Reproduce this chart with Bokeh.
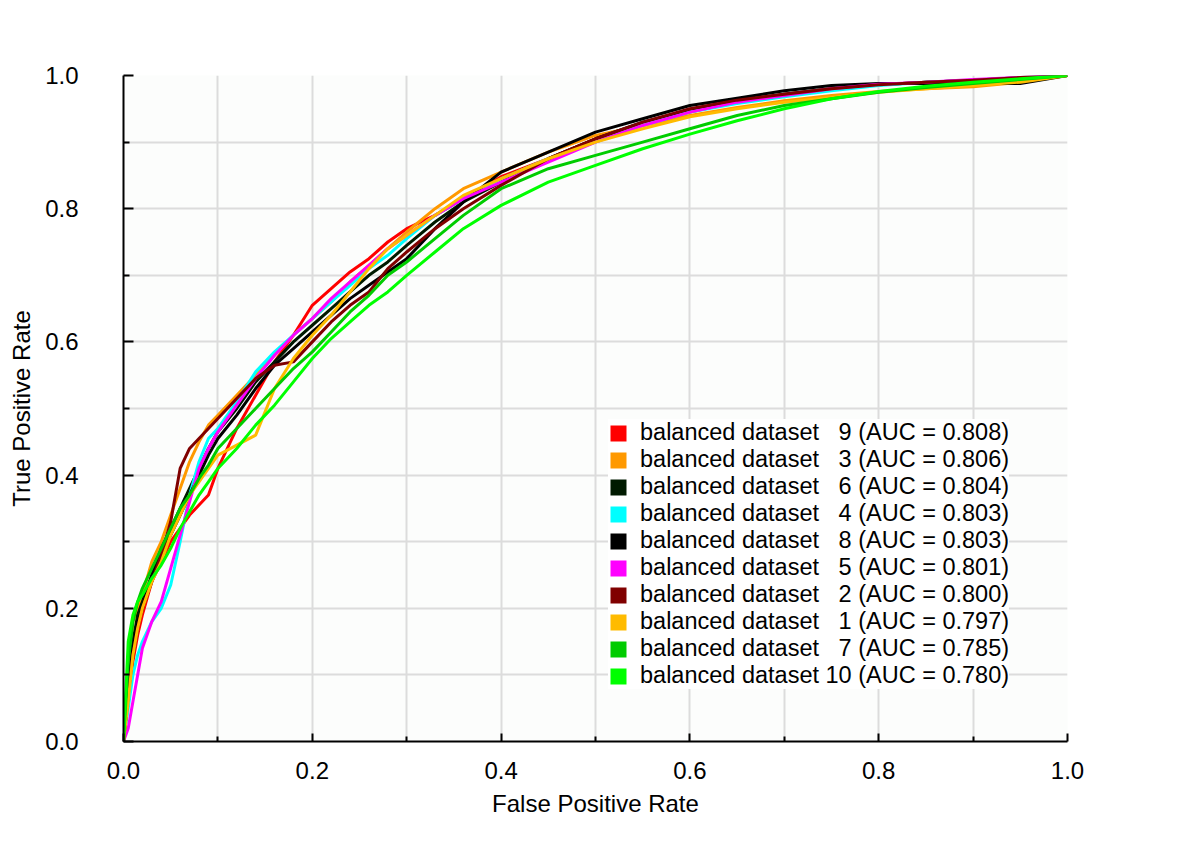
from bokeh.plotting import figure
from bokeh.models import (Range1d, FixedTicker, PrintfTickFormatter, Legend, LegendItem)
from bokeh.embed import file_html
from bokeh.resources import INLINE

# ---------------- data ----------------
fpr = [0, 0.005, 0.01, 0.015, 0.02, 0.03, 0.04, 0.05, 0.06, 0.07, 0.08, 0.09, 0.1,
       0.12, 0.14, 0.16, 0.18, 0.2, 0.22, 0.24, 0.26, 0.28, 0.3, 0.33, 0.36, 0.4,
       0.45, 0.5, 0.55, 0.6, 0.65, 0.7, 0.75, 0.8, 0.85, 0.9, 0.95, 1.0]

tpr_ds9 = [0, 0.06, 0.12, 0.16, 0.19, 0.24, 0.27, 0.30, 0.32, 0.34, 0.355, 0.37, 0.41,
           0.47, 0.52, 0.57, 0.61, 0.655, 0.68, 0.705, 0.725, 0.75, 0.77, 0.79, 0.815, 0.848,
           0.875, 0.905, 0.925, 0.945, 0.96, 0.972, 0.98, 0.986, 0.99, 0.993, 0.997, 1.0]
tpr_ds3 = [0, 0.10, 0.18, 0.20, 0.22, 0.27, 0.30, 0.34, 0.38, 0.42, 0.45, 0.475, 0.49,
           0.52, 0.55, 0.58, 0.61, 0.635, 0.66, 0.69, 0.715, 0.74, 0.765, 0.80, 0.83, 0.855,
           0.885, 0.91, 0.925, 0.94, 0.952, 0.962, 0.97, 0.976, 0.98, 0.983, 0.99, 1.0]
tpr_ds6 = [0, 0.08, 0.15, 0.19, 0.21, 0.25, 0.29, 0.32, 0.35, 0.38, 0.41, 0.44, 0.465,
           0.50, 0.54, 0.57, 0.60, 0.625, 0.65, 0.675, 0.70, 0.72, 0.745, 0.78, 0.81, 0.84,
           0.875, 0.905, 0.93, 0.948, 0.962, 0.972, 0.98, 0.986, 0.99, 0.993, 0.996, 1.0]
tpr_ds4 = [0, 0.05, 0.10, 0.13, 0.15, 0.18, 0.20, 0.235, 0.30, 0.37, 0.42, 0.455, 0.47,
           0.51, 0.555, 0.585, 0.61, 0.635, 0.66, 0.685, 0.71, 0.73, 0.755, 0.79, 0.815, 0.845,
           0.875, 0.90, 0.925, 0.945, 0.958, 0.968, 0.977, 0.985, 0.99, 0.993, 0.997, 1.0]
tpr_ds8 = [0, 0.07, 0.14, 0.18, 0.20, 0.25, 0.28, 0.31, 0.34, 0.37, 0.40, 0.43, 0.455,
           0.49, 0.53, 0.565, 0.59, 0.615, 0.64, 0.665, 0.685, 0.705, 0.725, 0.77, 0.81, 0.855,
           0.885, 0.915, 0.935, 0.955, 0.966, 0.977, 0.985, 0.988, 0.988, 0.988, 0.988, 1.0]
tpr_ds5 = [0, 0.02, 0.06, 0.10, 0.14, 0.18, 0.21, 0.26, 0.31, 0.36, 0.41, 0.44, 0.465,
           0.505, 0.545, 0.58, 0.61, 0.635, 0.665, 0.69, 0.715, 0.74, 0.76, 0.79, 0.815, 0.84,
           0.87, 0.90, 0.925, 0.945, 0.96, 0.97, 0.98, 0.987, 0.99, 0.994, 0.997, 1.0]
tpr_ds2 = [0, 0.07, 0.13, 0.17, 0.20, 0.24, 0.28, 0.33, 0.41, 0.44, 0.455, 0.47, 0.485,
           0.515, 0.545, 0.565, 0.57, 0.60, 0.63, 0.655, 0.675, 0.71, 0.735, 0.77, 0.80, 0.835,
           0.875, 0.905, 0.93, 0.95, 0.963, 0.972, 0.98, 0.986, 0.99, 0.993, 0.997, 1.0]
tpr_ds1 = [0, 0.06, 0.13, 0.17, 0.20, 0.24, 0.27, 0.31, 0.34, 0.37, 0.39, 0.41, 0.43,
           0.445, 0.46, 0.53, 0.575, 0.61, 0.64, 0.675, 0.71, 0.74, 0.76, 0.79, 0.82, 0.845,
           0.875, 0.90, 0.92, 0.938, 0.95, 0.96, 0.967, 0.975, 0.98, 0.985, 0.99, 1.0]
tpr_ds7 = [0, 0.12, 0.18, 0.21, 0.23, 0.26, 0.29, 0.32, 0.35, 0.37, 0.395, 0.415, 0.44,
           0.47, 0.50, 0.53, 0.56, 0.585, 0.615, 0.645, 0.67, 0.70, 0.72, 0.755, 0.79, 0.83,
           0.86, 0.88, 0.90, 0.92, 0.94, 0.955, 0.965, 0.975, 0.982, 0.988, 0.994, 1.0]
tpr_ds10 = [0, 0.15, 0.19, 0.21, 0.22, 0.245, 0.265, 0.29, 0.32, 0.345, 0.37, 0.39, 0.41,
            0.44, 0.475, 0.505, 0.54, 0.575, 0.605, 0.63, 0.655, 0.675, 0.70, 0.735, 0.77, 0.805,
            0.84, 0.865, 0.89, 0.912, 0.932, 0.95, 0.965, 0.976, 0.984, 0.99, 0.995, 1.0]

labels = [
    "balanced dataset \u20079 (AUC = 0.808)",
    "balanced dataset \u20073 (AUC = 0.806)",
    "balanced dataset \u20076 (AUC = 0.804)",
    "balanced dataset \u20074 (AUC = 0.803)",
    "balanced dataset \u20078 (AUC = 0.803)",
    "balanced dataset \u20075 (AUC = 0.801)",
    "balanced dataset \u20072 (AUC = 0.800)",
    "balanced dataset \u20071 (AUC = 0.797)",
    "balanced dataset \u20077 (AUC = 0.785)",
    "balanced dataset 10 (AUC = 0.780)",
]
series = [tpr_ds9, tpr_ds3, tpr_ds6, tpr_ds4, tpr_ds8, tpr_ds5, tpr_ds2, tpr_ds1, tpr_ds7, tpr_ds10]
colors = ["#ff0000", "#ff9900", "#001a00", "#00ffff", "#000000",
          "#ff00ff", "#800000", "#ffbb00", "#00cc00", "#00ff00"]

major_ticks = [0.0, 0.2, 0.4, 0.6, 0.8, 1.0]
minor_ticks = [0.1, 0.3, 0.5, 0.7, 0.9]
grid_ticks = [0.0, 0.1, 0.2, 0.3, 0.4, 0.5, 0.6, 0.7, 0.8, 0.9, 1.0]

FONT = "Liberation Sans"
FS = "24px"
LFS = "23.5px"

# ---------------- figure ----------------
p = figure(frame_width=944, frame_height=666,
           x_range=Range1d(0, 1), y_range=Range1d(0, 1),
           output_backend="svg", toolbar_location=None,
           background_fill_color="#fcfdfc", border_fill_color="white",
           min_border_left=123, min_border_right=125, min_border_top=75, min_border_bottom=100)
p.outline_line_color = None

for g in (p.xgrid, p.ygrid):
    g.ticker = FixedTicker(ticks=grid_ticks)
    g.grid_line_color = "#dcdcdc"
    g.grid_line_width = 2

for ax in (p.xaxis, p.yaxis):
    ax.ticker = FixedTicker(ticks=major_ticks, minor_ticks=minor_ticks)
    ax.formatter = PrintfTickFormatter(format="%.1f")
    ax.axis_line_color = "black"
    ax.axis_line_width = 2
    ax.major_tick_line_width = 2
    ax.minor_tick_line_width = 2
    ax.major_tick_out = 0
    ax.minor_tick_out = 0
    ax.major_tick_in = 10
    ax.minor_tick_in = 6
    ax.major_label_text_font = FONT
    ax.major_label_text_font_size = FS
    ax.major_label_text_color = "black"
    ax.axis_label_text_font = FONT
    ax.axis_label_text_font_size = FS
    ax.axis_label_text_font_style = "normal"
    ax.axis_label_text_color = "black"

p.xaxis.axis_label = "False Positive Rate"
p.yaxis.axis_label = "True Positive Rate"
p.yaxis.major_label_standoff = 45
p.yaxis.axis_label_standoff = 7
p.xaxis.major_label_standoff = 20
p.xaxis.axis_label_standoff = 8
p.xaxis.major_tick_in = 8
p.xaxis.minor_tick_in = 5

for tpr, col in zip(series, colors):
    p.line(fpr, tpr, line_color=col, line_width=3)

# zero-size quads on the same data: invisible in the plot, filled squares in the legend
items = []
for tpr, col, lab in zip(series, colors, labels):
    r = p.quad(left=fpr, right=fpr, top=tpr, bottom=tpr, fill_color=col, line_color=None)
    items.append(LegendItem(label=lab, renderers=[r]))

legend = Legend(items=items, location=(485, 52),
                glyph_width=20, glyph_height=20, label_standoff=12, spacing=0,
                label_text_font=FONT, label_text_font_size=LFS,
                label_text_color="black", padding=10, margin=0,
                border_line_color=None, background_fill_color="white",
                background_fill_alpha=1.0)
p.add_layout(legend)

open("out.html", "w").write(file_html(p, INLINE))
